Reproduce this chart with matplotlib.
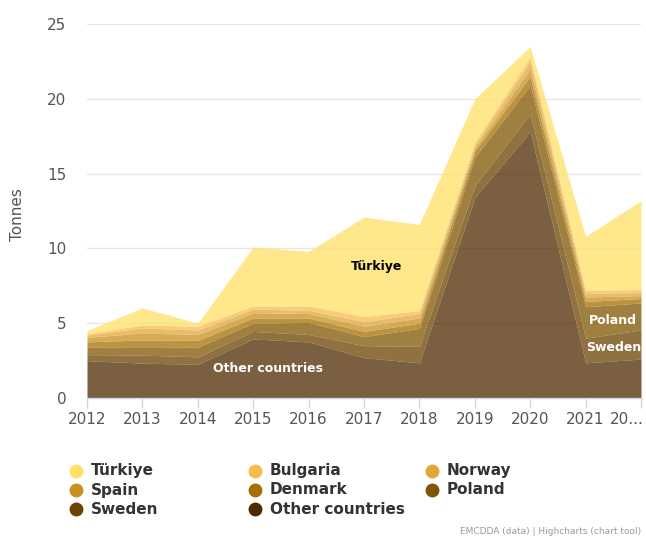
import matplotlib
matplotlib.use("Agg")
import matplotlib.pyplot as plt
from matplotlib.lines import Line2D
from matplotlib.transforms import ScaledTranslation
import numpy as np

plt.rcParams['font.family'] = ['DejaVu Sans']

years = [2012, 2013, 2014, 2015, 2016, 2017, 2018, 2019, 2020, 2021, 2022]
year_labels = ["2012", "2013", "2014", "2015", "2016", "2017", "2018",
               "2019", "2020", "2021", "20..."]

# Seizures in tonnes, by country (stacked bottom-up: other countries first)
other_countries = [2.5, 2.33, 2.25, 3.95, 3.75, 2.7, 2.35, 13.4, 17.8, 2.35, 2.6]
sweden = [0.4, 0.54, 0.5, 0.5, 0.5, 0.8, 1.1, 0.8, 1.2, 1.65, 1.95]
poland = [0.5, 0.56, 0.65, 0.55, 0.8, 0.6, 1.2, 1.9, 1.9, 2.1, 1.8]
denmark = [0.35, 0.45, 0.45, 0.35, 0.3, 0.35, 0.35, 0.4, 0.6, 0.35, 0.3]
spain = [0.3, 0.46, 0.4, 0.35, 0.3, 0.35, 0.35, 0.2, 0.5, 0.3, 0.2]
norway = [0.15, 0.34, 0.3, 0.25, 0.2, 0.3, 0.3, 0.2, 0.5, 0.25, 0.2]
bulgaria = [0.1, 0.2, 0.25, 0.2, 0.3, 0.35, 0.2, 0.2, 0.3, 0.2, 0.2]
turkiye = [0.2, 1.15, 0.2, 3.95, 3.65, 6.65, 5.75, 2.9, 0.7, 3.6, 5.95]

series = [
    ("Other countries", other_countries, "#4d2a00"),
    ("Sweden", sweden, "#6b4300"),
    ("Poland", poland, "#7f5500"),
    ("Denmark", denmark, "#a66f00"),
    ("Spain", spain, "#c8901e"),
    ("Norway", norway, "#e0a63a"),
    ("Bulgaria", bulgaria, "#f8bb4c"),
    ("Türkiye", turkiye, "#ffe066"),
]

fig = plt.figure(figsize=(6.46, 5.37), dpi=100)
ax = fig.add_axes([87 / 646, 1 - 398 / 537, (641 - 87) / 646, (398 - 24) / 537])

x = np.array(years, dtype=float)
base = np.zeros(len(years))
for name, vals, col in series:
    top = base + np.array(vals)
    ax.fill_between(x, base, top, color=col, alpha=0.75, linewidth=0, zorder=2)
    base = top

ax.set_xlim(2012, 2022)
ax.set_ylim(0, 25)
ax.set_yticks([0, 5, 10, 15, 20, 25])
ax.yaxis.grid(True, color="#e6e6e6", linewidth=1, zorder=0)
ax.set_axisbelow(True)
for s in ["top", "right", "left"]:
    ax.spines[s].set_visible(False)
ax.spines["bottom"].set_color("#ccd6eb")
ax.spines["bottom"].set_linewidth(1)

ax.set_xticks(years)
ax.set_xticklabels(year_labels)
ax.tick_params(axis="x", colors="#ccd6eb", length=7, width=1, direction="out",
               labelcolor="#555555", labelsize=11, pad=3)
ax.tick_params(axis="y", length=0, labelcolor="#555555", labelsize=11, pad=15)

# Last (truncated) year label is right-aligned so it stays inside the figure
last = ax.get_xticklabels()[-1]
last.set_ha("right")
last.set_transform(last.get_transform() + ScaledTranslation(3 / 100, 0, fig.dpi_scale_trans))

fig.text(17 / 646, 1 - 215 / 537, "Tonnes", rotation=90, ha="center", va="center",
         fontsize=11, color="#555555")

# Series labels inside the areas
ax.text(2017.22, 8.76, "Türkiye", ha="center", va="center", fontsize=9,
        fontweight="bold", color="#000000", zorder=5)
ax.text(2015.27, 1.94, "Other countries", ha="center", va="center", fontsize=9,
        fontweight="bold", color="#ffffff", zorder=5)
ax.text(2021.5, 5.2, "Poland", ha="center", va="center", fontsize=9,
        fontweight="bold", color="#ffffff", zorder=5)
ax.text(2021.5, 3.4, "Sweden", ha="center", va="center", fontsize=9,
        fontweight="bold", color="#ffffff", zorder=5)

# Legend laid out in rows of three
legend_order = [("Türkiye", "#ffe066"), ("Bulgaria", "#f8bb4c"), ("Norway", "#e0a63a"),
                ("Spain", "#c8901e"), ("Denmark", "#a66f00"), ("Poland", "#7f5500"),
                ("Sweden", "#6b4300"), ("Other countries", "#4d2a00")]
col_marker_x = [76, 255, 432]
row_y = [471, 490, 509]
for i, (name, col) in enumerate(legend_order):
    r, c = divmod(i, 3)
    mx = col_marker_x[c] / 646
    my = 1 - row_y[r] / 537
    fig.add_artist(Line2D([mx], [my], marker="o", markersize=10, color=col,
                          markeredgewidth=0, linestyle="none",
                          transform=fig.transFigure))
    fig.text(mx + 15 / 646, my, name, ha="left", va="center", fontsize=11,
             fontweight="bold", color="#333333")

fig.text(641 / 646, 1 - 532 / 537, "EMCDDA (data) | Highcharts (chart tool)",
         ha="right", va="center", fontsize=6.5, color="#999999")

fig.savefig("out.png", dpi=100)
